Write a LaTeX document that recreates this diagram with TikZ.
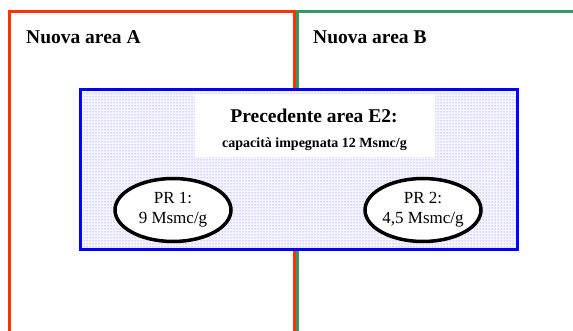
\documentclass[tikz,border=0pt]{standalone}
\usepackage{fontspec}
\setmainfont{Liberation Serif}
\usetikzlibrary{patterns,shapes.geometric}
\definecolor{areared}{HTML}{FF3300}
\definecolor{areagreen}{HTML}{339966}
\definecolor{dotblue}{HTML}{7070FF}

\begin{document}
\begin{tikzpicture}[
        x=1pt, y=-1pt,
        arealine/.style={
            line width=3pt
        },
        areaname/.style={
            anchor=base west,
            inner sep=0pt,
            font=\fontsize{19.5}{22}\selectfont\bfseries
        },
        oldarea/.style={
            rectangle,
            draw=blue,
            line width=3pt,
            preaction={fill=blue!4},
            pattern=dots,
            pattern color=dotblue,
            inner sep=0pt,
            minimum width=437pt,
            minimum height=160pt
        },
        headbox/.style={
            rectangle,
            fill=white,
            inner sep=0pt,
            minimum width=240pt,
            minimum height=63pt
        },
        prnode/.style={
            ellipse,
            draw=black,
            fill=white,
            line width=3.5pt,
            inner sep=0pt,
            minimum width=116pt,
            minimum height=63pt,
            align=center,
            font=\fontsize{17}{20}\selectfont
        }
    ]
    \useasboundingbox (0,0) rectangle (573,331);

    % --- New areas ---
    \draw[arealine, draw=areared] (9,340) |- (294,12) -- (294,340);
    \draw[arealine, draw=areagreen] (297,340) |- (580,12);

    \node[areaname] (nameA) at (26,44) {Nuova area A};
    \node[areaname] (nameB) at (313,44) {Nuova area B};

    % --- Previous area E2 ---
    \node[oldarea] (e2) at (298.5,170) {};
    \node[headbox] (head) at (315,125.5) {};
    \node[anchor=base, inner sep=0pt, font=\fontsize{19.5}{22}\selectfont\bfseries] (title) at (314,123) {Precedente area E2:};
    \node[anchor=base, inner sep=0pt, font=\fontsize{14}{16}\selectfont\bfseries] (capacity) at (314.5,148) {capacità impegnata 12 Msmc/g};

    % Points of delivery
    \node[prnode] (pr1) at (173,210) {PR 1:\\9 Msmc/g};
    \node[prnode] (pr2) at (423,210) {PR 2:\\4,5 Msmc/g};

\end{tikzpicture}
\end{document}
